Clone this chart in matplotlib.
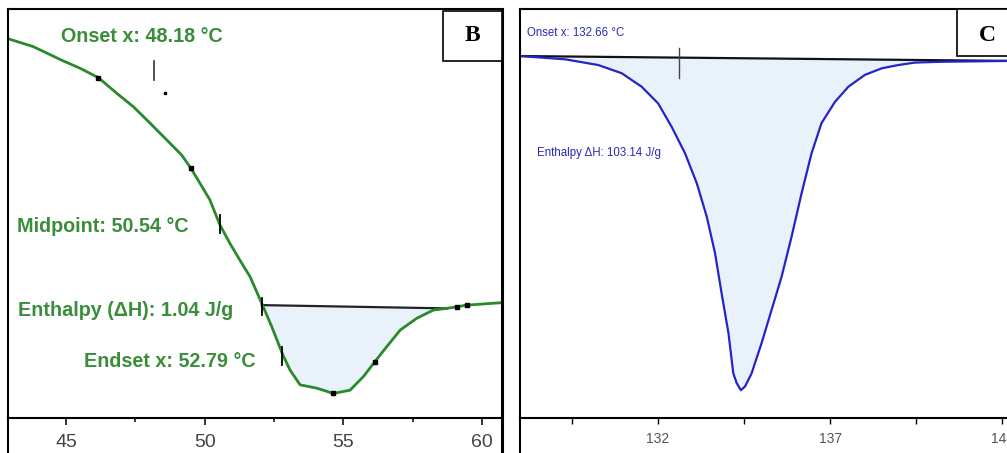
import matplotlib
matplotlib.use("Agg")
import matplotlib.pyplot as plt
from matplotlib.patches import Rectangle
from matplotlib.lines import Line2D

# ---------------- Data: panel B ----------------
b_temp = [42.88, 43.82, 44.84, 45.51, 46.17, 46.83, 47.43, 48.03, 48.63, 49.17,
          49.50, 49.83, 50.19, 50.55, 50.91, 51.27, 51.64, 52.06, 52.42, 52.82,
          53.08, 53.44, 54.04, 54.64, 55.24, 55.72, 56.14, 56.56, 57.05, 57.65,
          58.25, 58.73, 59.45, 60.71, 60.80]
b_flow = [9.28, 9.08, 8.75, 8.55, 8.32, 7.94, 7.61, 7.21, 6.80, 6.43,
          6.11, 5.74, 5.33, 4.72, 4.27, 3.86, 3.45, 2.80, 2.23, 1.54,
          1.17, 0.81, 0.73, 0.60, 0.68, 1.01, 1.38, 1.74, 2.15, 2.44,
          2.64, 2.68, 2.76, 2.82, 2.82]
b_base_t = [52.06, 58.73]
b_base_v = [2.76, 2.68]
b_dots_t = [46.17, 49.50, 54.64, 56.14, 59.10, 59.45]
b_dots_v = [8.32, 6.11, 0.60, 1.38, 2.72, 2.76]
b_onset_t, b_onset_v = 48.18, (8.26, 8.73)
b_onset_dot = (48.56, 7.95)
b_marks_t = [50.54, 52.06, 52.79]
b_marks_v = [(4.52, 4.96), (2.52, 2.93), (1.30, 1.74)]
b_texts = ["Onset x: 48.18 °C", "Midpoint: 50.54 °C",
           "Enthalpy (ΔH): 1.04 J/g", "Endset x: 52.79 °C"]
b_text_pos = [(44.82, 9.32), (43.23, 4.67), (43.27, 2.64), (45.65, 1.39)]
b_major = [45, 50, 55, 60]
b_minor = [47.5, 52.5, 57.5]

# ---------------- Data: panel C ----------------
c_temp = [128.00, 129.31, 130.27, 130.95, 131.53, 132.01, 132.40, 132.79, 133.13,
          133.42, 133.66, 133.85, 134.05, 134.19, 134.29, 134.41, 134.53, 134.72,
          135.01, 135.30, 135.59, 135.88, 136.17, 136.46, 136.75, 137.14, 137.53,
          138.01, 138.50, 138.98, 139.46, 140.24, 142.13, 142.30]
c_flow = [8.85, 8.77, 8.63, 8.43, 8.10, 7.69, 7.12, 6.47, 5.74,
          4.92, 4.03, 3.05, 2.07, 1.09, 0.85, 0.68, 0.77, 1.09,
          1.83, 2.64, 3.45, 4.43, 5.49, 6.47, 7.21, 7.73, 8.10,
          8.39, 8.55, 8.63, 8.69, 8.71, 8.73, 8.73]
c_base_t = [128.00, 142.30]
c_base_v = [8.85, 8.73]
c_onset_t, c_onset_v = 132.60, (8.31, 9.05)
c_texts = ["Onset x: 132.66 °C", "Enthalpy ΔH: 103.14 J/g"]
c_text_pos = [(128.20, 9.41), (128.49, 6.48)]
c_major = [132, 137, 142]
c_minor = [129.5, 134.5, 139.5]

W, H = 1007, 453
fig = plt.figure(figsize=(W / 100, H / 100), dpi=100)
fig.patch.set_facecolor("white")

green = "#2a8a2a"
green_txt = "#3a8d3a"
blue = "#2424c8"
blue_txt = "#2a2ab4"
fill_c = "#e9f2fb"

ax_b = fig.add_axes([8 / W, 35 / H, 494 / W, 409 / H])
ax_c = fig.add_axes([520 / W, 35 / H, 490 / W, 409 / H])

sans = ["Liberation Sans", "DejaVu Sans"]

for ax in (ax_b, ax_c):
    ax.set_ylim(0, 10)
    ax.set_yticks([])
    for s in ax.spines.values():
        s.set_linewidth(1.5)
        s.set_color("black")

# ---- Panel B ----
ax_b.set_xlim(42.909, 60.72)
ax_b.spines["right"].set_linewidth(2.2)
seg_t = [t for t in b_temp if b_base_t[0] <= t <= b_base_t[1]]
seg_v = [v for t, v in zip(b_temp, b_flow) if b_base_t[0] <= t <= b_base_t[1]]
base_interp = [b_base_v[0] + (b_base_v[1] - b_base_v[0]) * (t - b_base_t[0]) / (b_base_t[1] - b_base_t[0]) for t in seg_t]
ax_b.fill_between(seg_t, seg_v, base_interp, color=fill_c, lw=0)
ax_b.plot(b_base_t, b_base_v, color="#222222", lw=1.6)
ax_b.plot(b_temp, b_flow, color=green, lw=2.0, solid_joinstyle="round")
ax_b.plot(b_dots_t, b_dots_v, ls="none", marker="s", ms=2.2, color="black")
ax_b.plot([b_onset_t, b_onset_t], b_onset_v, color="#333333", lw=1.2)
ax_b.plot([b_onset_dot[0]], [b_onset_dot[1]], ls="none", marker="s", ms=2.0, color="black")
for t, (v0, v1) in zip(b_marks_t, b_marks_v):
    ax_b.plot([t, t], [v0, v1], color="black", lw=1.3)
for txt, (x, y) in zip(b_texts, b_text_pos):
    ax_b.text(x, y, txt, color=green_txt, fontsize=14.2, fontweight="bold",
              family=sans, ha="left", va="center")
ax_b.set_xticks(b_major)
ax_b.set_xticks(b_minor, minor=True)
ax_b.tick_params(axis="x", which="major", direction="out", length=5, width=1.1,
                 pad=6.5, labelsize=14, labelcolor="#444444")
ax_b.tick_params(axis="x", which="minor", direction="out", length=3, width=1.1)
for lab in ax_b.get_xticklabels():
    lab.set_family(sans)
ax_b.add_patch(Rectangle((0.8806, 0.872), 0.1194, 0.123, transform=ax_b.transAxes,
                         fill=True, facecolor="white", edgecolor="black", lw=1.2, zorder=5))
ax_b.text(0.940, 0.934, "B", transform=ax_b.transAxes, fontsize=17, fontweight="bold",
          family=["Liberation Serif", "DejaVu Serif"], ha="center", va="center", zorder=6)

# ---- Panel C ----
ax_c.set_xlim(128.0, 128.0 + 490 / 34.46)
ax_c.fill_between(c_temp, c_flow,
                  [c_base_v[0] + (c_base_v[1] - c_base_v[0]) * (t - c_base_t[0]) / (c_base_t[1] - c_base_t[0]) for t in c_temp],
                  color=fill_c, lw=0)
ax_c.plot(c_base_t, c_base_v, color="#111111", lw=1.6)
ax_c.plot(c_temp, c_flow, color=blue, lw=1.6)
ax_c.plot([c_onset_t, c_onset_t], c_onset_v, color="#444444", lw=1.0)
for txt, (x, y) in zip(c_texts, c_text_pos):
    ax_c.text(x, y, txt, color=blue_txt, fontsize=8.3, family=sans,
              ha="left", va="center")
ax_c.set_xticks(c_major)
ax_c.set_xticks(c_minor, minor=True)
ax_c.tick_params(axis="x", which="both", direction="out", length=4.3, width=1.0,
                 pad=6, labelsize=10, labelcolor="#555555")
for lab in ax_c.get_xticklabels():
    lab.set_family(sans)
ax_c.add_patch(Rectangle((0.8918, 0.885), 0.2, 0.115, transform=ax_c.transAxes,
                         fill=True, facecolor="white", edgecolor="black", lw=1.2,
                         zorder=5, clip_on=False))
ax_c.text(0.953, 0.936, "C", transform=ax_c.transAxes, fontsize=17, fontweight="bold",
          family=["Liberation Serif", "DejaVu Serif"], ha="center", va="center", zorder=6)

# frame extensions below the x-axis line
bot = 35 / H
for x, lw in ((8 / W, 1.5), (502 / W, 2.2), (520 / W, 1.5)):
    fig.add_artist(Line2D([x, x], [0, bot], transform=fig.transFigure, color="black", lw=lw))

fig.savefig("out.png", dpi=100, facecolor="white")
